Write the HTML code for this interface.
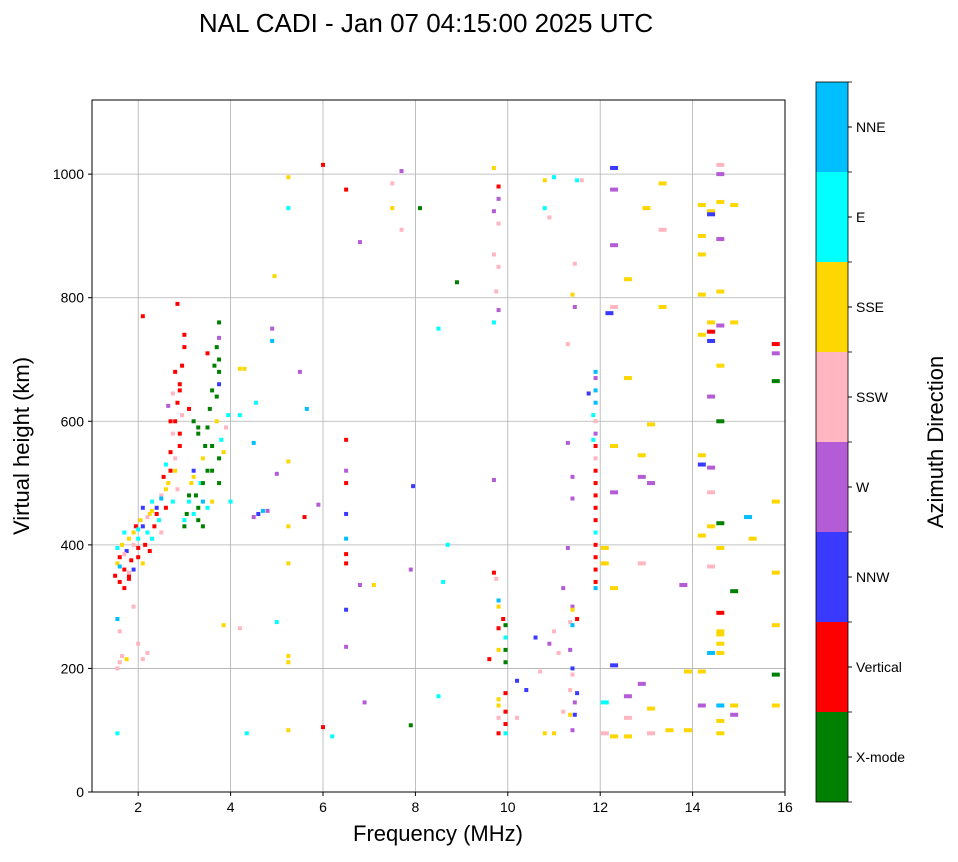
<!DOCTYPE html>
<html><head><meta charset="utf-8">
<style>
body{margin:0;background:#fff;width:958px;height:857px;overflow:hidden;font-family:"Liberation Sans",sans-serif;}
svg text{font-family:"Liberation Sans",sans-serif;}
</style></head>
<body>
<svg id="c" width="958" height="857" xmlns="http://www.w3.org/2000/svg">
<text x="426" y="32" font-size="26" text-anchor="middle">NAL CADI - Jan 07 04:15:00 2025 UTC</text>
<g id="grid"></g>
<g id="marks"></g>
<rect x="92" y="100" width="693" height="692" fill="none" stroke="#000" stroke-width="1"/>
<g id="axes"></g>
<text x="438" y="841" font-size="22" text-anchor="middle">Frequency (MHz)</text>
<text transform="translate(29,446) rotate(-90)" font-size="22" text-anchor="middle">Virtual height (km)</text>
<g id="cbar"></g>
<text transform="translate(943,442) rotate(-90)" font-size="22" text-anchor="middle">Azimuth Direction</text>
</svg>
<script>
const dirNames=["X-mode","Vertical","NNW","W","SSW","SSE","E","NNE"];
const dirColors=["#008000","#ff0000","#3a3aff","#b35cd6","#ffb6c1","#ffd700","#00ffff","#00bfff"];
const xTicks=[2,4,6,8,10,12,14,16];
const yTicks=[0,200,400,600,800,1000];
const freqs=[1.5,1.55,1.6,1.55,1.65,1.7,1.75,1.8,1.7,1.85,1.9,1.95,1.6,1.8,1.9,2.0,2.0,2.05,2.1,2.15,2.2,2.25,2.3,2.1,2.25,2.35,2.4,2.45,2.5,2.55,2.6,2.65,2.7,2.75,2.8,2.85,2.9,2.95,2.8,2.9,2.75,2.6,2.85,3.0,3.05,3.1,3.15,3.2,3.25,3.3,3.35,3.4,3.45,3.5,3.55,3.6,3.65,3.7,3.75,3.7,3.8,3.85,3.9,3.95,3.3,3.1,3.0,2.85,2.1,3.4,3.6,3.75,3.5,3.2,2.95,1.55,1.6,1.6,1.75,1.55,1.65,2.1,2.2,2.0,1.55,1.9,
1.6,1.7,1.8,1.9,2.0,2.1,2.2,2.3,2.4,2.5,2.6,2.7,2.8,2.9,3.0,3.1,3.2,3.3,3.4,3.5,3.6,3.7,3.75,3.75,3.75,3.75,3.75,2.8,2.9,2.7,2.65,2.75,3.4,3.5,3.6,3.3,3.2,3.0,2.5,2.3,2.0,1.8,1.7,
4.2,4.3,4.2,4.0,4.5,4.6,4.7,4.8,4.9,4.9,4.5,4.55,4.35,4.2,3.85,5.25,5.25,5.25,5.25,5.25,5.25,5.25,5.25,4.95,5.0,5.0,5.5,5.65,5.6,5.9,6.0,6.0,6.2,6.5,6.5,6.5,6.5,6.5,6.5,6.5,6.5,6.5,6.5,6.8,6.9,6.8,7.1,7.5,7.5,7.7,7.7,7.9,7.95,7.9,8.1,8.5,8.7,8.6,8.5,8.9,
9.7,9.7,9.7,9.75,9.7,9.8,9.8,9.8,9.8,9.8,9.7,9.7,9.75,9.8,9.8,9.8,9.8,9.9,9.95,9.95,9.95,9.95,9.6,9.8,9.8,9.8,9.8,9.95,9.95,9.95,9.95,10.2,10.2,10.4,10.6,10.7,10.8,11.0,10.8,10.9,10.9,11.0,11.2,11.1,11.2,10.8,11.0,11.3,11.3,11.4,11.35,11.4,11.4,11.35,11.4,11.4,11.35,11.45,11.45,11.35,11.4,11.5,11.5,11.3,11.4,11.4,11.4,11.45,11.45,11.6,11.5,11.75,
11.9,11.9,11.9,11.9,11.9,11.9,11.9,11.9,11.9,11.9,11.9,11.9,11.9,11.9,11.9,11.9,11.9,11.9,11.9,11.85,11.85,12.1,12.1,12.2,12.1,12.1,12.3,12.3,12.3,12.3,12.3,12.3,12.3,12.3,12.3,12.6,12.6,12.6,12.6,12.6,12.9,12.9,12.9,12.9,13.0,13.1,13.1,13.1,13.1,13.35,13.35,13.35,13.5,13.8,13.9,13.9,
14.2,14.2,14.2,14.2,14.2,14.2,14.2,14.2,14.2,14.2,14.4,14.4,14.4,14.4,14.4,14.4,14.4,14.4,14.4,14.4,14.4,14.6,14.6,14.6,14.6,14.6,14.6,14.6,14.6,14.6,14.6,14.6,14.6,14.6,14.6,14.6,14.6,14.6,14.6,14.9,14.9,14.9,14.9,14.9,15.2,15.3,15.8,15.8,15.8,15.8,15.8,15.8,15.8,15.8,15.8];
const heights=[350,370,380,395,400,360,390,410,420,375,400,430,340,350,360,380,410,440,460,400,420,450,470,370,390,430,460,440,480,510,530,500,550,580,600,630,660,690,520,560,470,460,490,430,450,470,500,520,480,460,500,540,560,590,620,650,690,720,760,600,570,550,590,610,580,620,740,790,770,430,520,680,710,450,610,280,260,210,215,200,220,215,225,240,95,300,
365,385,345,420,395,430,445,410,450,475,490,520,540,580,440,480,510,440,470,520,560,640,700,735,660,540,500,680,650,600,625,645,500,460,470,590,600,720,420,455,425,355,330,
685,685,610,470,445,450,455,455,750,730,565,630,95,265,270,995,945,535,430,370,220,210,100,835,515,275,680,620,445,465,1015,105,90,570,520,500,450,410,385,370,295,235,975,890,145,335,335,945,985,1005,910,360,495,108,945,750,400,340,155,825,
1010,940,870,810,760,780,980,960,920,850,505,355,345,310,300,265,230,280,250,270,230,210,215,150,140,120,95,160,130,110,95,180,120,165,250,195,990,995,945,930,240,260,330,225,130,95,95,725,565,300,275,295,270,230,200,190,165,145,125,125,100,160,280,395,510,475,805,785,855,990,990,645,
680,670,650,630,600,580,560,540,520,500,480,460,440,420,400,380,360,340,330,610,570,395,370,775,145,95,1010,975,885,785,560,485,330,205,90,830,670,155,120,90,545,510,370,175,945,595,500,135,95,985,910,785,100,335,195,100,
950,900,870,805,740,545,530,415,195,140,940,935,760,745,730,640,525,485,430,365,225,1015,1000,955,895,810,755,690,600,435,395,290,260,255,240,225,140,115,95,950,760,325,140,125,445,410,725,710,665,470,355,270,190,140,115];
const dirs=[1,5,1,6,5,1,2,5,6,1,4,1,1,1,2,1,6,5,2,1,6,5,6,5,1,1,2,6,4,1,6,5,1,4,1,1,1,1,5,1,6,1,4,0,0,6,5,2,0,0,6,5,0,0,0,0,0,0,0,5,6,5,4,6,0,1,1,1,1,0,0,0,1,6,4,7,4,4,5,4,4,4,4,4,6,4,
7,4,1,5,1,2,4,6,1,7,5,1,4,1,6,0,5,0,7,0,0,0,0,3,2,0,0,1,1,1,3,4,0,6,5,0,0,1,4,5,6,4,1,
5,5,6,6,3,2,7,3,3,7,7,6,6,4,5,5,6,5,5,5,5,5,5,5,3,6,3,7,1,3,1,1,6,1,3,1,2,7,1,1,2,3,1,3,3,3,5,5,4,3,4,3,2,0,0,6,6,6,6,0,
5,3,4,4,6,3,1,3,4,4,3,1,4,7,5,1,5,1,6,0,0,0,1,5,5,4,1,1,1,1,6,2,4,2,2,4,5,6,6,4,3,4,3,4,4,5,5,4,3,3,4,5,7,3,2,4,4,3,2,5,3,2,1,3,3,3,5,3,4,4,6,
2,7,3,7,7,4,3,1,4,1,1,1,1,1,6,1,1,1,1,7,6,6,5,5,2,6,4,2,3,3,4,5,3,5,2,5,5,5,3,4,5,5,3,4,3,5,5,3,5,4,5,4,5,5,3,5,
5,5,5,5,5,5,5,2,5,5,3,5,2,5,1,2,3,3,4,5,4,7,4,3,5,3,5,3,5,0,0,5,1,5,5,5,5,7,5,5,5,5,0,5,3,7,5,1,3,0,5,5,5,0,5];
const NS="http://www.w3.org/2000/svg";
const X0=92,X1=785,Y0=792,Y1=100,FMIN=1,FMAX=16,HMAX=1120;
function xs(f){return X0+(f-FMIN)/(FMAX-FMIN)*(X1-X0);}
function ys(h){return Y0-h/HMAX*(Y0-Y1);}
function mk(tag,attrs,parent){const e=document.createElementNS(NS,tag);for(const k in attrs)e.setAttribute(k,attrs[k]);parent.appendChild(e);return e;}
const grid=document.getElementById('grid'),axes=document.getElementById('axes'),marks=document.getElementById('marks'),cbar=document.getElementById('cbar');
// colorbar first
const CB0=802,CB1=82,CX=816,CW=32,seg=(CB0-CB1)/dirNames.length;
dirNames.forEach((n,i)=>{
 const y=CB0-(i+1)*seg;
 const r=mk('rect',{x:CX,y:y,width:CW,height:seg,fill:dirColors[i]},cbar);
 
 
 const cy=y+seg/2;
 mk('line',{x1:CX+CW,x2:CX+CW+4,y1:cy,y2:cy,stroke:'#000'},cbar);
 const t=mk('text',{x:CX+CW+8,y:cy+5,'font-size':14},cbar);t.textContent=n;
 
 
});
for(let i=0;i<=dirNames.length;i++){const y=CB0-i*seg;mk('line',{x1:CX+CW,x2:CX+CW+4,y1:y,y2:y,stroke:'#000','stroke-width':0.8},cbar);}
mk('rect',{x:CX,y:CB1,width:CW,height:CB0-CB1,fill:'none',stroke:'#000','stroke-width':0.8},cbar);
xTicks.forEach(t=>{const x=xs(t);
 const g=mk('line',{x1:x,x2:x,y1:Y1,y2:Y0,stroke:'#b0b0b0','stroke-width':0.8},grid);
 
 
 mk('line',{x1:x,x2:x,y1:Y0,y2:Y0+4,stroke:'#000'},axes);
 const tx=mk('text',{x:x,y:Y0+20,'font-size':14,'text-anchor':'middle'},axes);tx.textContent=t;
 
 
});
yTicks.forEach(t=>{const y=ys(t);
 if(t>0){const g=mk('line',{x1:X0,x2:X1,y1:y,y2:y,stroke:'#b0b0b0','stroke-width':0.8},grid);
 
 }
 mk('line',{x1:X0-4,x2:X0,y1:y,y2:y,stroke:'#000'},axes);
 const tx=mk('text',{x:X0-8,y:y+5,'font-size':14,'text-anchor':'end'},axes);tx.textContent=t;
 
 
});
const N=Math.min(freqs.length,heights.length,dirs.length);
for(let i=0;i<N;i++){
 const f=freqs[i],h=heights[i];
 const d=(dirs[i]>=0&&dirs[i]<8)?dirs[i]:5;
 const w=f>12?8:4;
 const x=xs(f)-w/2;const ww=Math.max(1,Math.min(w,X1-x));
 const r=mk('rect',{x:x,y:ys(h)-2,width:ww,height:4,fill:dirColors[d]},marks);
 
 
}
</script>
</body></html>
